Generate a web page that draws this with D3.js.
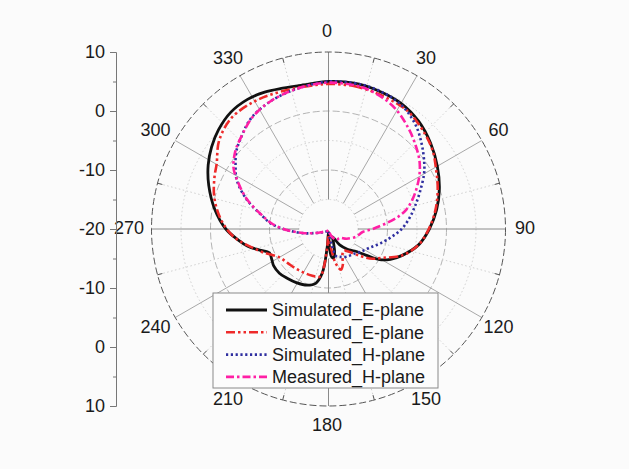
<!DOCTYPE html>
<html><head><meta charset="utf-8">
<script src="https://cdn.jsdelivr.net/npm/d3@7"></script>
<style>
html,body{margin:0;padding:0;background:#fbfbfb;}
svg{display:block;font-family:"Liberation Sans",Arial,sans-serif;}
</style></head><body>
<svg id="c" width="629" height="469"></svg>
<script>
// ---- data ----
const angleTicks = [0,30,60,90,120,150,180,210,240,270,300,330];
const radialMajor = [-20,-10,0,10];
const radialMinor = [-15,-5,5];
const seriesNames = ["Simulated_E-plane","Measured_E-plane","Simulated_H-plane","Measured_H-plane"];

const simE_ang = [0,10,20,30,40,50,60,70,80,90,100,110,116,121,125,130,137,145,153,160,165,170,174,177,180,184,188,193,201,211,220,228,236,242,248,253,258,263,270,280,290,298,305,312,320,328,335,342,350];
const simE_db  = [5.0,5.1,4.9,4.6,3.8,2.6,1.3,0.0,-1.4,-2.9,-4.5,-6.8,-8.3,-9.9,-12.3,-14.2,-15.3,-16.7,-18.5,-17.5,-16,-15,-15.3,-17,-19.5,-17,-12.5,-10.6,-9.8,-9.4,-9.1,-8.8,-8.8,-9.1,-9.2,-7.8,-6.0,-4.6,-2.6,-0.4,1.6,3.1,4.2,5.1,5.8,5.9,5.6,5.1,4.8];

const meaE_ang = [0,10,20,30,35,45,53,61,70,80,90,100,110,118,124,130,138,145,152,158,163,168,172,176,180,184,187,190,200,210,220,230,240,250,256,261,266,273,280,287,295,300,309,319,330,339,348,355];
const meaE_db  = [4.6,4.6,4.4,4.2,4.0,3.0,2.1,0.85,-0.3,-1.6,-3.0,-4.5,-6.8,-9.6,-11,-12.8,-14.8,-15.5,-15,-13.5,-12.8,-14,-16.5,-18.5,-19,-17,-13.5,-11.8,-11.6,-11.5,-11.3,-11,-10.4,-8.3,-6.8,-5.2,-3.7,-2.1,-0.8,0.3,1.3,1.9,3.85,5.0,5.0,4.7,4.5,4.5];

const simH_ang = [0,10,15,22,29,35,41,48,55,60,68,75,82,90,97,105,114,125,135,147,158,164,168,173,180,200,230,245,252,261,268,272,276,281,290,298,304,310,316,325,336,348];
const simH_db  = [5.0,5.1,5.1,4.9,4.5,3.8,2.8,1.3,-0.2,-1.3,-3.3,-4.8,-6.1,-7.6,-9.2,-10.8,-12.3,-13.3,-14,-14.4,-14.9,-15.2,-16.9,-18.8,-19.7,-19.6,-19.3,-18.6,-17.8,-15.5,-13.2,-11.5,-10.0,-8.6,-5.2,-2.4,-1.0,0.4,1.4,2.9,3.8,4.4];

const meaH_ang = [0,13,22,30,39,46,53,59,65,71,76,80,84,90,95,105,118,129,144,155,165,175,200,230,245,252,261,268,272,276,281,290,298,303,310,315,326,336,348];
const meaH_db  = [4.8,4.7,4.1,3.2,1.7,0.5,-0.7,-2.0,-3.5,-5.0,-6.4,-8.0,-10.0,-12.5,-14.2,-15.1,-16.5,-17.6,-17.7,-18.5,-19.3,-19.8,-19.7,-19.4,-18.7,-17.8,-15.6,-13.2,-11.6,-10.2,-8.7,-5.3,-2.5,-0.8,0.6,1.3,2.95,3.8,4.4];

// ---- layout ----
const svg = d3.select("#c");
const cx = 328.5, cy = 229, R = 177;
const r = d3.scaleLinear().domain([-20,10]).range([0,R]);
const rad = a => a*Math.PI/180;
const g = svg.append("g").attr("transform",`translate(${cx},${cy})`);

// minor circles
g.selectAll("circle.minor").data(radialMinor).join("circle")
  .attr("r",d=>r(d)).attr("fill","none").attr("stroke","#d0d0d0")
  .attr("stroke-width",1).attr("stroke-dasharray","1.5,2.5");
// major circles
g.selectAll("circle.major").data([-10,0]).join("circle")
  .attr("r",d=>r(d)).attr("fill","none").attr("stroke","#b4b4b4")
  .attr("stroke-width",1).attr("stroke-dasharray","7,3");

// spokes
const minorAngles = d3.range(15,360,30);
g.selectAll("line.mspoke").data(minorAngles).join("line")
  .attr("x1",d=>r(-15)*Math.sin(rad(d))).attr("y1",d=>-r(-15)*Math.cos(rad(d)))
  .attr("x2",d=>R*Math.sin(rad(d))).attr("y2",d=>-R*Math.cos(rad(d)))
  .attr("stroke","#d0d0d0").attr("stroke-width",1).attr("stroke-dasharray","1.5,2.5");
g.selectAll("line.spoke").data(angleTicks).join("line")
  .attr("x1",d=>r(-15)*Math.sin(rad(d))).attr("y1",d=>-r(-15)*Math.cos(rad(d)))
  .attr("x2",d=>R*Math.sin(rad(d))).attr("y2",d=>-R*Math.cos(rad(d)))
  .attr("stroke",d=>(d%90===0)?"#8a8a8a":"#a8a8a8").attr("stroke-width",1);
// minor ticks on outer circle
g.selectAll("line.otick").data(minorAngles).join("line")
  .attr("x1",d=>(R-5)*Math.sin(rad(d))).attr("y1",d=>-(R-5)*Math.cos(rad(d)))
  .attr("x2",d=>R*Math.sin(rad(d))).attr("y2",d=>-R*Math.cos(rad(d)))
  .attr("stroke","#555").attr("stroke-width",1);
// outer circle
g.append("circle").attr("r",R).attr("fill","none").attr("stroke","#555")
  .attr("stroke-width",1).attr("stroke-dasharray","7,3");

// angle labels
g.selectAll("text.ang").data(angleTicks).join("text")
  .attr("x",d=>198*Math.sin(rad(d))-1.5)
  .attr("y",d=>-197*Math.cos(rad(d))-1)
  .attr("dy","0.35em").attr("text-anchor","middle")
  .attr("font-size",18).attr("fill","#1a1a1a").text(d=>d);

// series
const mk = (angs, vals) => angs.map((a,i)=>({a:a, v:vals[i]}));
const series = [
  {data:mk(simE_ang,simE_db), color:"#111", w:2.8, dash:null},
  {data:mk(meaE_ang,meaE_db), color:"#ee2a2a", w:2.6, dash:"9,3,2.5,3,2.5,3"},
  {data:mk(simH_ang,simH_db), color:"#2f2fa0", w:2.6, dash:"2.2,2.6"},
  {data:mk(meaH_ang,meaH_db), color:"#ff1fa5", w:2.6, dash:"8,3,2.5,3"}
];
const line = d3.lineRadial()
  .angle(d=>rad(d.a)).radius(d=>r(Math.max(-20,d.v)))
  .curve(d3.curveCatmullRomClosed.alpha(0.5));
series.forEach(s=>{
  g.append("path").attr("d",line(s.data)).attr("fill","none")
   .attr("stroke",s.color).attr("stroke-width",s.w)
   .attr("stroke-dasharray",s.dash).attr("stroke-linejoin","round");
});

// left radial axis
const axX = 116;
const yUp = d3.scaleLinear().domain([-20,10]).range([cy,cy-R]);
const yDn = d3.scaleLinear().domain([-20,10]).range([cy,cy+R]);
const fmt = d=>String(d);
const ax = svg.append("g").attr("transform",`translate(${axX},0)`);
const a1 = ax.append("g").call(d3.axisLeft(yUp).tickValues(radialMajor).tickFormat(fmt).tickSize(6).tickSizeOuter(0).tickPadding(5));
const a2 = ax.append("g").call(d3.axisLeft(yDn).tickValues(radialMajor.slice(1)).tickFormat(fmt).tickSize(6).tickSizeOuter(0).tickPadding(5));
const a3 = ax.append("g").call(d3.axisLeft(yUp).tickValues(radialMinor).tickFormat("").tickSize(3).tickSizeOuter(0));
const a4 = ax.append("g").call(d3.axisLeft(yDn).tickValues(radialMinor).tickFormat("").tickSize(3).tickSizeOuter(0));
[a1,a2,a3,a4].forEach(a=>{
  a.selectAll("path,line").attr("stroke","#777");
  a.selectAll("text").attr("font-size",18).attr("fill","#1a1a1a")
   .attr("font-family",'"Liberation Sans",Arial,sans-serif');
});

// legend
const lg = svg.append("g").attr("transform","translate(213,293)");
lg.append("rect").attr("width",225).attr("height",95).attr("fill","#fcfcfc")
  .attr("stroke","#8a8a8a").attr("stroke-width",1);
series.forEach((s,i)=>{
  const y = 17 + i*22.3;
  lg.append("line").attr("x1",13).attr("x2",54).attr("y1",y).attr("y2",y)
    .attr("stroke",s.color).attr("stroke-width",s.w).attr("stroke-dasharray",s.dash);
  lg.append("text").attr("x",59).attr("y",y).attr("dy","0.35em")
    .attr("font-size",18).attr("fill","#1a1a1a").text(seriesNames[i]);
});
</script>
</body></html>
